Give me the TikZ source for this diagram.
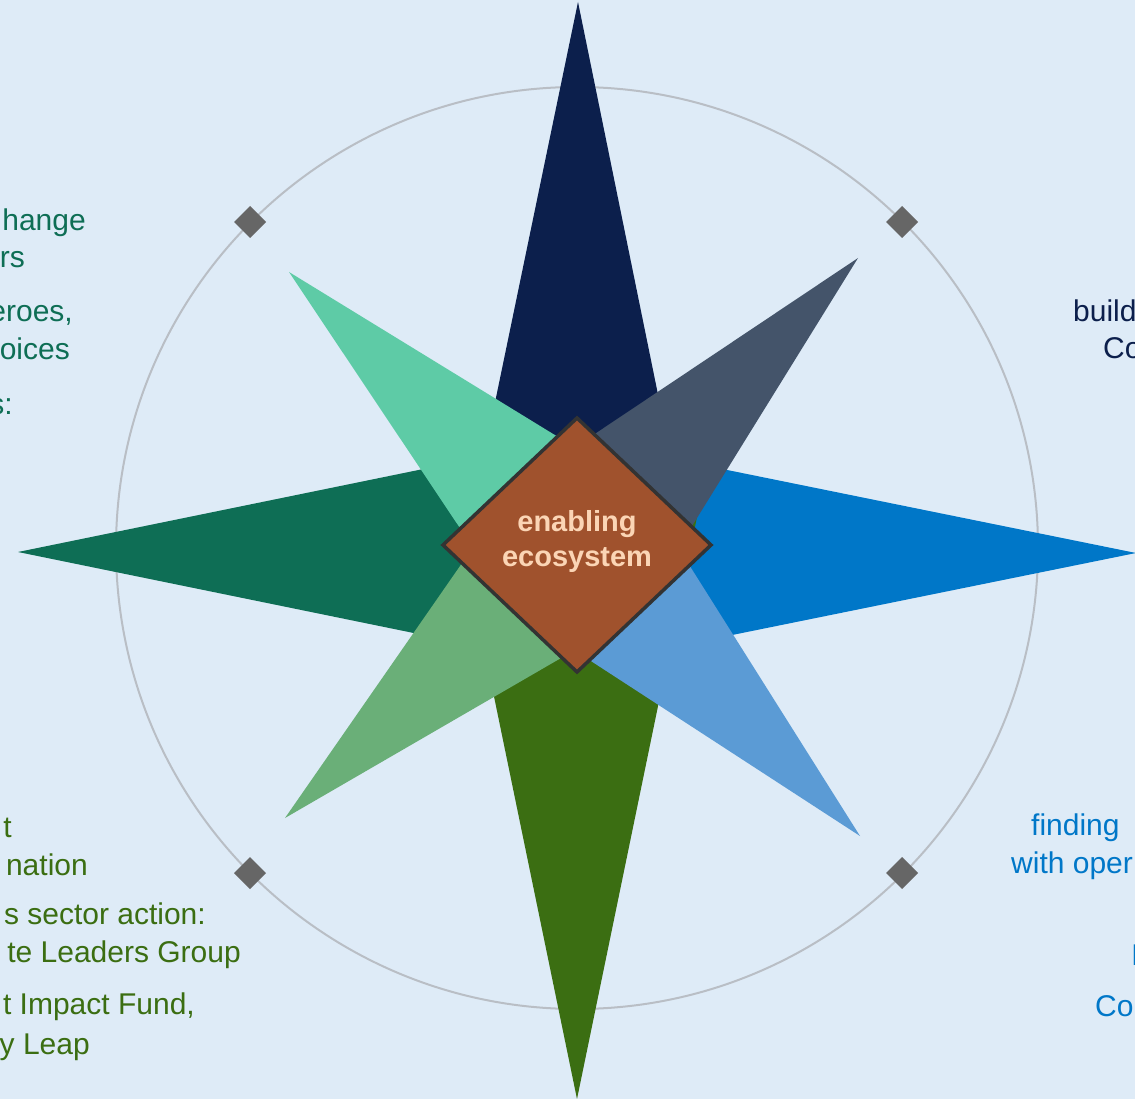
\documentclass[tikz,border=0pt]{standalone}
\usepackage{fontspec}
\setmainfont{Liberation Sans}
\definecolor{bg}{HTML}{DEEBF7}
\definecolor{cN}{HTML}{0C1F4C}
\definecolor{cNE}{HTML}{44546A}
\definecolor{cE}{HTML}{0077C8}
\definecolor{cSE}{HTML}{5B9BD5}
\definecolor{cS}{HTML}{3B6E12}
\definecolor{cSW}{HTML}{6AAF78}
\definecolor{cW}{HTML}{0E6E55}
\definecolor{cNW}{HTML}{5ECBA6}
\definecolor{sienna}{HTML}{A0522D}
\definecolor{peach}{HTML}{FBD5B5}
\definecolor{ring}{HTML}{B9BEC5}
\definecolor{marker}{HTML}{666666}
\definecolor{frame}{HTML}{333333}
\tikzset{
  lbl/.style={inner sep=0pt, font=\fontsize{30}{36}\selectfont},
  lblL/.style={lbl, anchor=base east},
  lblR/.style={lbl, anchor=base west},
  ringline/.style={draw=ring, line width=2pt},
  markerbox/.style={fill=marker},
}
\begin{document}
\begin{tikzpicture}[x=1pt,y=-1pt]
\useasboundingbox (0,0) rectangle (1135,1099);
\clip (0,0) rectangle (1135,1099);
\fill[bg] (0,0) rectangle (1135,1099);
\coordinate (C) at (577,549);
% ring
\draw[ringline] (577,548) circle[radius=461pt];
% main points
\fill[cN] (578,2) -- (696,581) -- (458,581) -- cycle;
\fill[cW] (18,552) -- (609,431) -- (609,673) -- cycle;
\fill[cE] (1136,553) -- (545,433) -- (545,673) -- cycle;
\fill[cS] (577,1099) -- (457,517) -- (697,517) -- cycle;
% diagonal points
\fill[cNE] (858,258) -- (640,610) -- (514,488) -- cycle;
\fill[cNW] (289,272) -- (638,486) -- (516,612) -- cycle;
\fill[cSW] (285,818) -- (637,614) -- (517,484) -- cycle;
\fill[cSE] (860,836) -- (640,487) -- (514,611) -- cycle;
% markers on ring
\foreach \mx/\my/\nm in {250/222/mNW, 902/222/mNE, 250/873/mSW, 902/873/mSE}{
  \fill[markerbox] (\mx,\my-16) -- (\mx+16,\my) -- (\mx,\my+16) -- (\mx-16,\my) -- cycle;
}
% centre diamond
\filldraw[fill=sienna, draw=frame, line width=3.5pt, line join=miter]
  (577,418) -- (711,545) -- (577,672) -- (443,545) -- cycle;
\node[font=\bfseries\fontsize{29}{35}\selectfont, text=peach, align=center, inner sep=0pt] (centre) at (577,541) {enabling\\ecosystem};
% top-left text
\node[lblL, text=cW] (tl1) at (86,231) {hange};
\node[lblL, text=cW] (tl2) at (25,268) {rs};
\node[lblL, text=cW] (tl3) at (73,322) {eroes,};
\node[lblL, text=cW] (tl4) at (70,359) {oices};
\node[lblL, text=cW] (tl5) at (13,414) {s:};
% bottom-left text
\node[lblL, text=cS] (bl1) at (12,837) {t};
\node[lblL, text=cS] (bl2) at (88,875) {nation};
\node[lblL, text=cS] (bl3) at (206,924) {s sector action:};
\node[lblL, text=cS] (bl4) at (241,962) {te Leaders Group};
\node[lblL, text=cS] (bl5) at (195,1014) {t Impact Fund,};
\node[lblL, text=cS] (bl6) at (90,1054) {y Leap};
% top-right text
\node[lblR, text=cN] (tr1) at (1073,322) {build};
\node[lblR, text=cN] (tr2) at (1103,358) {Co};
% bottom-right text
\node[lblR, text=cE] (br1) at (1031,835) {finding};
\node[lblR, text=cE] (br2) at (1011,873) {with oper};
\node[lblR, text=cE] (br3) at (1131,965) {I};
\node[lblR, text=cE] (br4) at (1095,1016) {Co};
\end{tikzpicture}
\end{document}
